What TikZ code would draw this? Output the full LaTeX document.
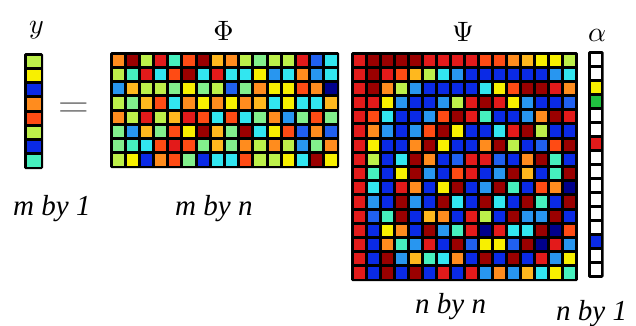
\documentclass[tikz,border=0pt]{standalone}
\usepackage{fontspec}
\newfontfamily\tms{Liberation Serif}
\definecolor{cDR}{HTML}{9A0000}
\definecolor{cR}{HTML}{E31A1A}
\definecolor{cOR}{HTML}{FF4B14}
\definecolor{cO}{HTML}{FF8C1E}
\definecolor{cYO}{HTML}{FFB81E}
\definecolor{cY}{HTML}{F8F000}
\definecolor{cYG}{HTML}{BDF04A}
\definecolor{cG}{HTML}{82F08C}
\definecolor{cAG}{HTML}{46F0BE}
\definecolor{cC}{HTML}{32E6F0}
\definecolor{cLB}{HTML}{2896F0}
\definecolor{cMB}{HTML}{2060F0}
\definecolor{cB}{HTML}{0A2AE6}
\definecolor{cDB}{HTML}{00008C}
\definecolor{cGN}{HTML}{20C040}
\definecolor{cW}{HTML}{FFFFFF}
\definecolor{eqgray}{HTML}{7A7A7A}
\tikzset{
  mathlabel/.style={inner sep=0pt, anchor=base, scale=2.8},
  dimlabel/.style={inner sep=0pt, anchor=base west, font=\tms\itshape\fontsize{29}{29}\selectfont},
  framebg/.style={fill=black, rounded corners=1.5pt}
}
% #1 x0, #2 y0 (top), #3 cell w, #4 cell h, #5 ncols, #6 nrows, #7 rows
\newcommand\cellgrid[7]{%
  \fill[framebg] ({#1-1},{-#2+1}) rectangle ({#1+#5*#3+1},{-#2-#6*#4-1});
  \foreach [count=\r] \rl in {#7} {
    \foreach [count=\c] \cl in \rl {
      \fill[c\cl] ({#1+(\c-1)*#3+1.5},{-#2-(\r-1)*#4-1.5}) rectangle ({#1+\c*#3-1.5},{-#2-\r*#4+1.5});
    }
  }
}
\begin{document}
\begin{tikzpicture}[x=1pt,y=1pt]
\path[use as bounding box, fill=white] (0,0) rectangle (636,-325);

% y vector
\cellgrid{25}{54}{17}{14.25}{1}{8}{{YG},{Y},{B},{O},{OR},{YG},{B},{AG}}

% Phi
\cellgrid{111}{53}{14.19}{14.25}{16}{8}{
{O,DR,YG,R,AG,OR,DR,YO,O,YG,G,YG,YG,R,MB,C},
{YG,AG,R,C,OR,DR,C,R,C,C,Y,LB,C,O,LB,C},
{LB,YO,YG,YG,G,Y,G,YG,MB,G,O,Y,Y,OR,O,DB},
{YG,G,YO,OR,C,O,Y,O,Y,O,YO,C,Y,C,C,YO},
{O,YG,R,YG,YO,R,OR,C,OR,C,G,O,LB,G,OR,G},
{G,LB,YO,G,OR,Y,DR,YO,G,DR,C,Y,OR,MB,O,MB},
{G,AG,C,OR,R,OR,G,YO,G,O,YG,O,YG,LB,G,O},
{YG,Y,B,O,OR,G,B,C,C,OR,YG,YG,Y,C,DR,Y}}

% Psi
\cellgrid{352}{53}{14.06}{14.19}{16}{16}{
{R,DR,DR,DR,DR,R,R,R,R,OR,OR,O,YO,Y,Y,YG},
{R,DR,R,OR,YO,YG,C,LB,B,B,B,B,B,B,LB,C},
{R,DR,O,YG,LB,B,B,B,B,C,Y,OR,DR,DR,R,O},
{R,R,Y,LB,B,B,LB,YG,R,DR,R,Y,LB,B,B,MB},
{R,OR,C,B,B,LB,OR,DR,R,AG,B,B,LB,O,DR,R},
{R,O,LB,B,LB,OR,DR,Y,B,B,C,R,DR,YG,B,B},
{R,Y,B,B,O,DR,Y,B,B,O,DR,YG,B,MB,OR,DR},
{R,YG,B,C,DR,O,B,MB,R,R,MB,B,O,DR,AG,B},
{R,AG,B,Y,DR,LB,B,OR,R,B,LB,DR,YO,B,AG,DR},
{R,C,B,R,O,B,Y,DR,B,LB,DR,AG,B,OR,O,DB},
{R,LB,B,DR,LB,B,DR,C,B,DR,C,B,DR,AG,B,DR},
{R,MB,AG,DR,B,YO,O,B,R,YG,B,DR,LB,LB,DR,B},
{R,B,Y,O,B,DR,LB,AG,R,DB,R,C,C,DR,DB,OR},
{R,B,O,AG,LB,R,B,DR,MB,Y,Y,MB,DR,DB,R,LB},
{R,B,DR,LB,YO,AG,C,O,B,DR,B,DR,B,R,LB,Y},
{R,B,DR,B,DR,B,R,B,R,LB,O,LB,YO,C,Y,AG}}

% alpha
\cellgrid{589}{52}{13.5}{14.06}{1}{16}{{W},{W},{Y},{GN},{W},{W},{R},{W},{W},{W},{W},{W},{W},{B},{W},{W}}

% labels
\node[mathlabel] (ly) at (36.5,-33) {$y$};
\node[mathlabel] (lphi) at (223.5,-40) {$\Phi$};
\node[mathlabel] (lpsi) at (463,-41) {$\Psi$};
\node[mathlabel] (lalpha) at (597,-41) {$\alpha$};
\node[inner sep=0pt, text=eqgray, scale=4] (eq) at (73.5,-110) {$=$};

\node[dimlabel] (dy) at (13,-215) {m by 1};
\node[dimlabel] (dphi) at (175,-215) {m by n};
\node[dimlabel] (dpsi) at (415,-313) {n by n};
\node[dimlabel] (dalpha) at (556,-320) {n by 1};
\end{tikzpicture}
\end{document}
